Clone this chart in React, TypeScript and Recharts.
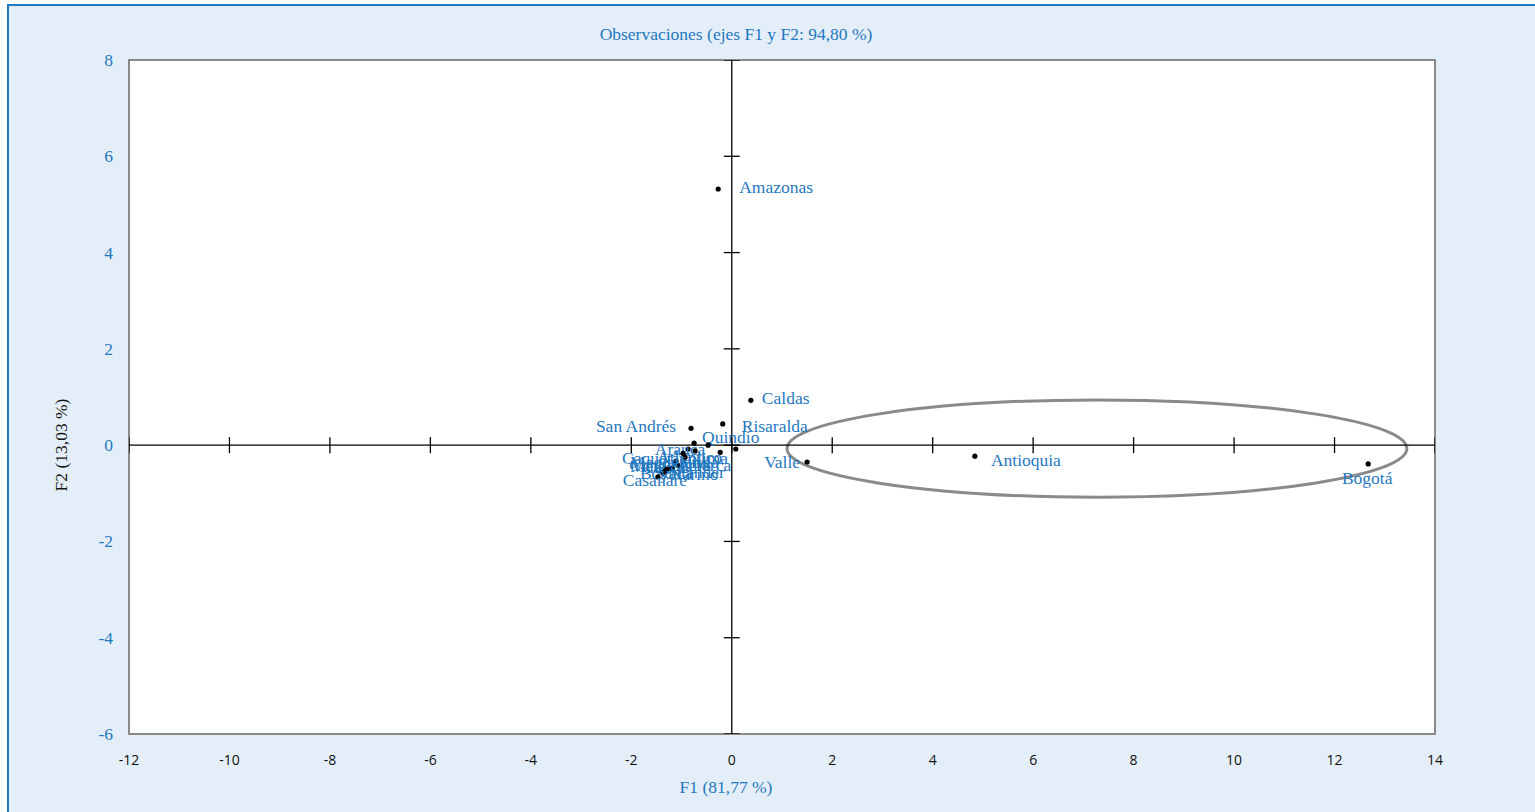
import React from 'react';
import { ScatterChart, Scatter, XAxis, YAxis, ReferenceLine, ReferenceArea, Label } from 'recharts';

// Coordenadas de los departamentos en el plano factorial F1–F2
const departamentos = [
  'Amazonas', 'Caldas', 'Risaralda', 'San Andrés', 'Quindío', 'Valle', 'Antioquia', 'Bogotá',
  'Atlántico', 'Santander', 'Cundinamarca', 'Arauca', 'Tolima', 'Sucre', 'Huila', 'Meta',
  'Magdalena', 'Cauca', 'Caquetá', 'Nariño', 'Boyacá', 'Casanare',
];
const f1 = [
  -0.27, 0.38, -0.18, -0.81, -0.75, 1.5, 4.84, 12.67,
  -0.47, 0.08, -0.23, -0.87, -0.73, -0.97, -0.93, -1.11,
  -1.07, -1.19, -1.29, -1.33, -1.37, -1.47,
];
const f2 = [
  5.32, 0.93, 0.44, 0.35, 0.04, -0.35, -0.23, -0.39,
  0.0, -0.08, -0.15, -0.08, -0.12, -0.17, -0.25, -0.33,
  -0.42, -0.48, -0.5, -0.54, -0.58, -0.66,
];

const xTicks = [-12, -10, -8, -6, -4, -2, 0, 2, 4, 6, 8, 10, 12, 14];
const yTicks = [-6, -4, -2, 0, 2, 4, 6, 8];

// Elipse que agrupa Valle, Antioquia y Bogotá (centro y semiejes en unidades de F1/F2)
const elipseCentro = { f1: 7.27, f2: -0.07 };
const elipseSemiejes = { f1: 6.17, f2: 1.01 };

// Ubicación de cada etiqueta respecto a su punto: [dx, dy, anclaje]
const etiquetaPos: Record<string, [number, number, 'start' | 'middle' | 'end']> = {
  Amazonas: [21, 4, 'start'],
  Caldas: [11, 4, 'start'],
  Risaralda: [19, 8, 'start'],
  'San Andrés': [-15, 4, 'end'],
  Quindío: [8, 0, 'start'],
  Valle: [-7, 6, 'end'],
  Antioquia: [16, 10, 'start'],
  Bogotá: [-1, 20, 'middle'],
  Atlántico: [14, 18, 'end'],
  Santander: [-11, 29, 'end'],
  Cundinamarca: [-40, 19, 'middle'],
  Arauca: [-8, 6, 'middle'],
  Tolima: [33, 13, 'end'],
  Sucre: [27, 18, 'end'],
  Huila: [-5, 11, 'start'],
  Meta: [-46, 11, 'start'],
  Magdalena: [-48, 3, 'start'],
  Cauca: [-8, 5, 'middle'],
  Caquetá: [-45, -5, 'start'],
  Nariño: [5, 9, 'start'],
  Boyacá: [-23, 6, 'start'],
  Casanare: [-3, 9, 'middle'],
};

const puntos = departamentos.map((nombre, i) => ({ nombre, f1: f1[i], f2: f2[i] }));
const marcasX = xTicks.map((v) => ({ f1: v, f2: 0 }));
const marcasY = yTicks.map((v) => ({ f1: 0, f2: v }));

const AZUL = '#1f78c0';
const SERIF = '"Liberation Serif", "DejaVu Serif", serif';

const PuntoEtiquetado = (props: any) => {
  const { cx, cy, payload } = props;
  const [dx, dy, anchor] = etiquetaPos[payload.nombre] || [8, 4, 'start'];
  return (
    <g>
      <circle cx={cx} cy={cy} r={2.6} fill="#000" />
      <text x={cx + dx} y={cy + dy} textAnchor={anchor} fill={AZUL} fontSize={17.5} fontFamily={SERIF}>
        {payload.nombre}
      </text>
    </g>
  );
};

const MarcaVertical = (props: any) => (
  <line x1={props.cx} y1={props.cy - 8} x2={props.cx} y2={props.cy + 8} stroke="#000" strokeWidth={1.3} />
);
const MarcaHorizontal = (props: any) => (
  <line x1={props.cx - 8} y1={props.cy} x2={props.cx + 8} y2={props.cy} stroke="#000" strokeWidth={1.3} />
);

const Elipse = (props: any) => {
  const { x, y, width, height } = props;
  return (
    <ellipse
      cx={x + width / 2}
      cy={y + height / 2}
      rx={width / 2}
      ry={height / 2}
      fill="none"
      stroke="#8a8a8a"
      strokeWidth={3}
    />
  );
};

const TickX = (props: any) => (
  <text x={props.x} y={props.y} dy={23} textAnchor="middle" fill="#111" fontSize={14} fontFamily='"Open Sans", "DejaVu Sans", sans-serif'>
    {props.payload.value}
  </text>
);
const TickY = (props: any) => (
  <text x={props.x} y={props.y} dx={-8} dy={6} textAnchor="end" fill={AZUL} fontSize={17.5} fontFamily={SERIF}>
    {props.payload.value}
  </text>
);

export default function App() {
  return (
    <div style={{ position: 'fixed', left: 0, top: 0, width: 1535, height: 812, overflow: 'hidden', background: '#fff' }}>
      <div
        style={{
          position: 'absolute',
          left: 7,
          top: 4,
          width: 1560,
          height: 840,
          background: '#e4eef8',
          border: `2px solid ${AZUL}`,
        }}
      />
      <div
        style={{
          position: 'absolute',
          left: 536,
          width: 400,
          top: 23,
          textAlign: 'center',
          color: AZUL,
          fontFamily: SERIF,
          fontSize: 17.5,
          lineHeight: '22px',
        }}
      >
        Observaciones (ejes F1 y F2: 94,80 %)
      </div>
      <div style={{ position: 'absolute', left: 0, top: 0 }}>
        <ScatterChart width={1535} height={812} margin={{ top: 60, right: 100, bottom: 48, left: 69 }}>
          <XAxis
            type="number"
            dataKey="f1"
            domain={[-12, 14]}
            ticks={xTicks}
            allowDataOverflow
            axisLine={false}
            tickLine={false}
            height={30}
            tick={<TickX />}
          >
            <Label
              content={(p: any) => (
                <text
                  x={p.viewBox.x + p.viewBox.width / 2 - 56}
                  y={p.viewBox.y + 59}
                  textAnchor="middle"
                  fill={AZUL}
                  fontSize={17.5}
                  fontFamily={SERIF}
                >
                  F1 (81,77 %)
                </text>
              )}
            />
          </XAxis>
          <YAxis
            type="number"
            dataKey="f2"
            domain={[-6, 8]}
            ticks={yTicks}
            allowDataOverflow
            axisLine={false}
            tickLine={false}
            width={60}
            tick={<TickY />}
          >
            <Label
              content={() => {
                const cx = 67;
                const cy = 445;
                return (
                  <text
                    x={cx}
                    y={cy}
                    transform={`rotate(-90 ${cx} ${cy})`}
                    textAnchor="middle"
                    fill="#111"
                    fontSize={17.5}
                    fontFamily={SERIF}
                  >
                    F2 (13,03 %)
                  </text>
                );
              }}
            />
          </YAxis>
          <ReferenceArea x1={-12} x2={14} y1={-6} y2={8} fill="#fff" fillOpacity={1} stroke="#8a8a8a" strokeWidth={2} />
          <ReferenceLine x={0} stroke="#000" strokeWidth={1.3} />
          <ReferenceLine y={0} stroke="#000" strokeWidth={1.3} />
          <Scatter data={marcasX} shape={<MarcaVertical />} isAnimationActive={false} />
          <Scatter data={marcasY} shape={<MarcaHorizontal />} isAnimationActive={false} />
          <ReferenceArea
            x1={elipseCentro.f1 - elipseSemiejes.f1}
            x2={elipseCentro.f1 + elipseSemiejes.f1}
            y1={elipseCentro.f2 - elipseSemiejes.f2}
            y2={elipseCentro.f2 + elipseSemiejes.f2}
            shape={<Elipse />}
          />
          <Scatter data={puntos} shape={<PuntoEtiquetado />} isAnimationActive={false} />
        </ScatterChart>
      </div>
    </div>
  );
}
